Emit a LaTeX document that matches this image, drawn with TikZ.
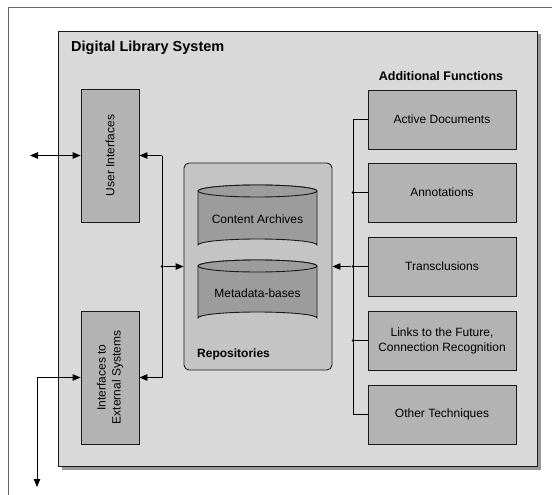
\documentclass[tikz,border=0pt]{standalone}
\usepackage{fontspec}
\setmainfont{Liberation Sans}
\usetikzlibrary{arrows.meta,calc}
\definecolor{framegray}{HTML}{666666}
\definecolor{sysfill}{HTML}{D9D9D9}
\definecolor{repofill}{HTML}{C4C4C4}
\definecolor{boxfill}{HTML}{B3B3B3}
\definecolor{cylfill}{HTML}{9C9C9C}
\definecolor{edge}{HTML}{1A1A1A}
\tikzset{
  bodyfont/.style={font=\fontsize{12}{15}\selectfont},
  funcbox/.style={draw=edge, fill=boxfill, line width=0.9pt, minimum width=148pt,
    minimum height=59pt, inner sep=0pt, align=center, bodyfont},
  ifbox/.style={draw=edge, fill=boxfill, line width=0.9pt, minimum width=133pt,
    minimum height=58pt, inner sep=0pt, align=center, rotate=90, bodyfont},
  conn/.style={line width=0.9pt, draw=black},
  tip/.style={-{Triangle[length=8pt,width=6.5pt]}},
  dot/.style={circle, fill=black, inner sep=0pt, minimum size=3pt},
  cyl/.style={draw=edge, fill=cylfill, line width=0.9pt},
  heading/.style={font=\bfseries\fontsize{12.5}{14}\selectfont, inner sep=0pt}
}
\begin{document}
\begin{tikzpicture}[x=1pt,y=-1pt]
\useasboundingbox (0,0) rectangle (552,495);
% outer frame (only top and left borders fall inside the picture)
\draw[framegray, line width=1pt] (8,500) -- (8,8) -- (560,8);
% system box with drop shadow
\fill[black!40] (61.5,34.5) rectangle (541,470);
\draw[edge, fill=sysfill, line width=0.9pt] (58,31) rectangle (537,466);
\node[heading, anchor=west, font=\bfseries\fontsize{14.5}{16}\selectfont] (title) at (71,48) {Digital Library System};

% interface boxes
\node[ifbox] (ui) at (110,155.5) {User Interfaces};
\node[ifbox] (ext) at (110,377.5) {Interfaces to\\External Systems};

% repositories
\node[draw=edge, fill=repofill, line width=0.9pt, rounded corners=5pt,
  minimum width=148pt, minimum height=207pt, inner sep=0pt] (repo) at (258,266.5) {};
\node[heading, anchor=west, font=\bfseries\fontsize{12}{14}\selectfont] (repolbl) at (197,354) {Repositories};

% cylinders
\draw[cyl] (198,191) -- (198,245) arc[start angle=180,end angle=360,x radius=59.5,y radius=6]
  -- (317,191) arc[start angle=0,end angle=-180,x radius=59.5,y radius=6] -- cycle;
\draw[cyl] (257.5,191) ellipse[x radius=59.5,y radius=6];
\node[bodyfont] (ca) at (257.5,219) {Content Archives};
\draw[cyl] (198,266) -- (198,318) arc[start angle=180,end angle=360,x radius=59.5,y radius=6]
  -- (317,266) arc[start angle=0,end angle=-180,x radius=59.5,y radius=6] -- cycle;
\draw[cyl] (257.5,266) ellipse[x radius=59.5,y radius=6];
\node[bodyfont] (md) at (257.5,293) {Metadata-bases};

% additional functions
\node[heading] (afhead) at (441,76) {Additional Functions};
\node[funcbox] (f1) at (442,119.5) {Active Documents};
\node[funcbox] (f2) at (442,192.5) {Annotations};
\node[funcbox] (f3) at (442,266.5) {Transclusions};
\node[funcbox] (f4) at (442,340.5) {Links to the Future,\\Connection Recognition};
\node[funcbox] (f5) at (442,414.5) {Other Techniques};

% bus collecting the additional functions
\coordinate (bustop) at (353,119.5);
\coordinate (busbot) at (353,414.5);
\draw[conn] (f1.west) -- (bustop) -- (busbot) -- (f5.west);
\draw[conn] (f2.west) -- (f2.west -| bustop) node[dot] (d2) {};
\draw[conn] (f4.west) -- (f4.west -| bustop) node[dot] (d4) {};
\draw[conn] (f3.west) -- (f3.west -| bustop) node[dot] (d3) {};
\draw[conn, tip] (d3) -- (repo.east |- d3);

% repositories to the interfaces
\coordinate (jn) at (162,266.5);
\draw[conn, tip] (jn |- ui.south) -- (ui.south);
\draw[conn, tip] (jn |- ext.south) -- (ext.south);
\draw[conn] (jn |- ui.south) -- (jn |- ext.south);
\node[dot] (jdot) at (jn) {};
\draw[conn, tip] (jdot) -- (repo.west |- jdot);

% links to the outside
\coordinate (uiout) at (30,155.5);
\draw[conn, {Triangle[length=8pt,width=6.5pt]}-{Triangle[length=8pt,width=6.5pt]}] (uiout) -- (ui.north);
\coordinate (extout) at (37,487);
\draw[conn, {Triangle[length=8pt,width=6.5pt]}-{Triangle[length=8pt,width=6.5pt]}] (extout) -- (extout |- ext.north) -- (ext.north);
\end{tikzpicture}
\end{document}
